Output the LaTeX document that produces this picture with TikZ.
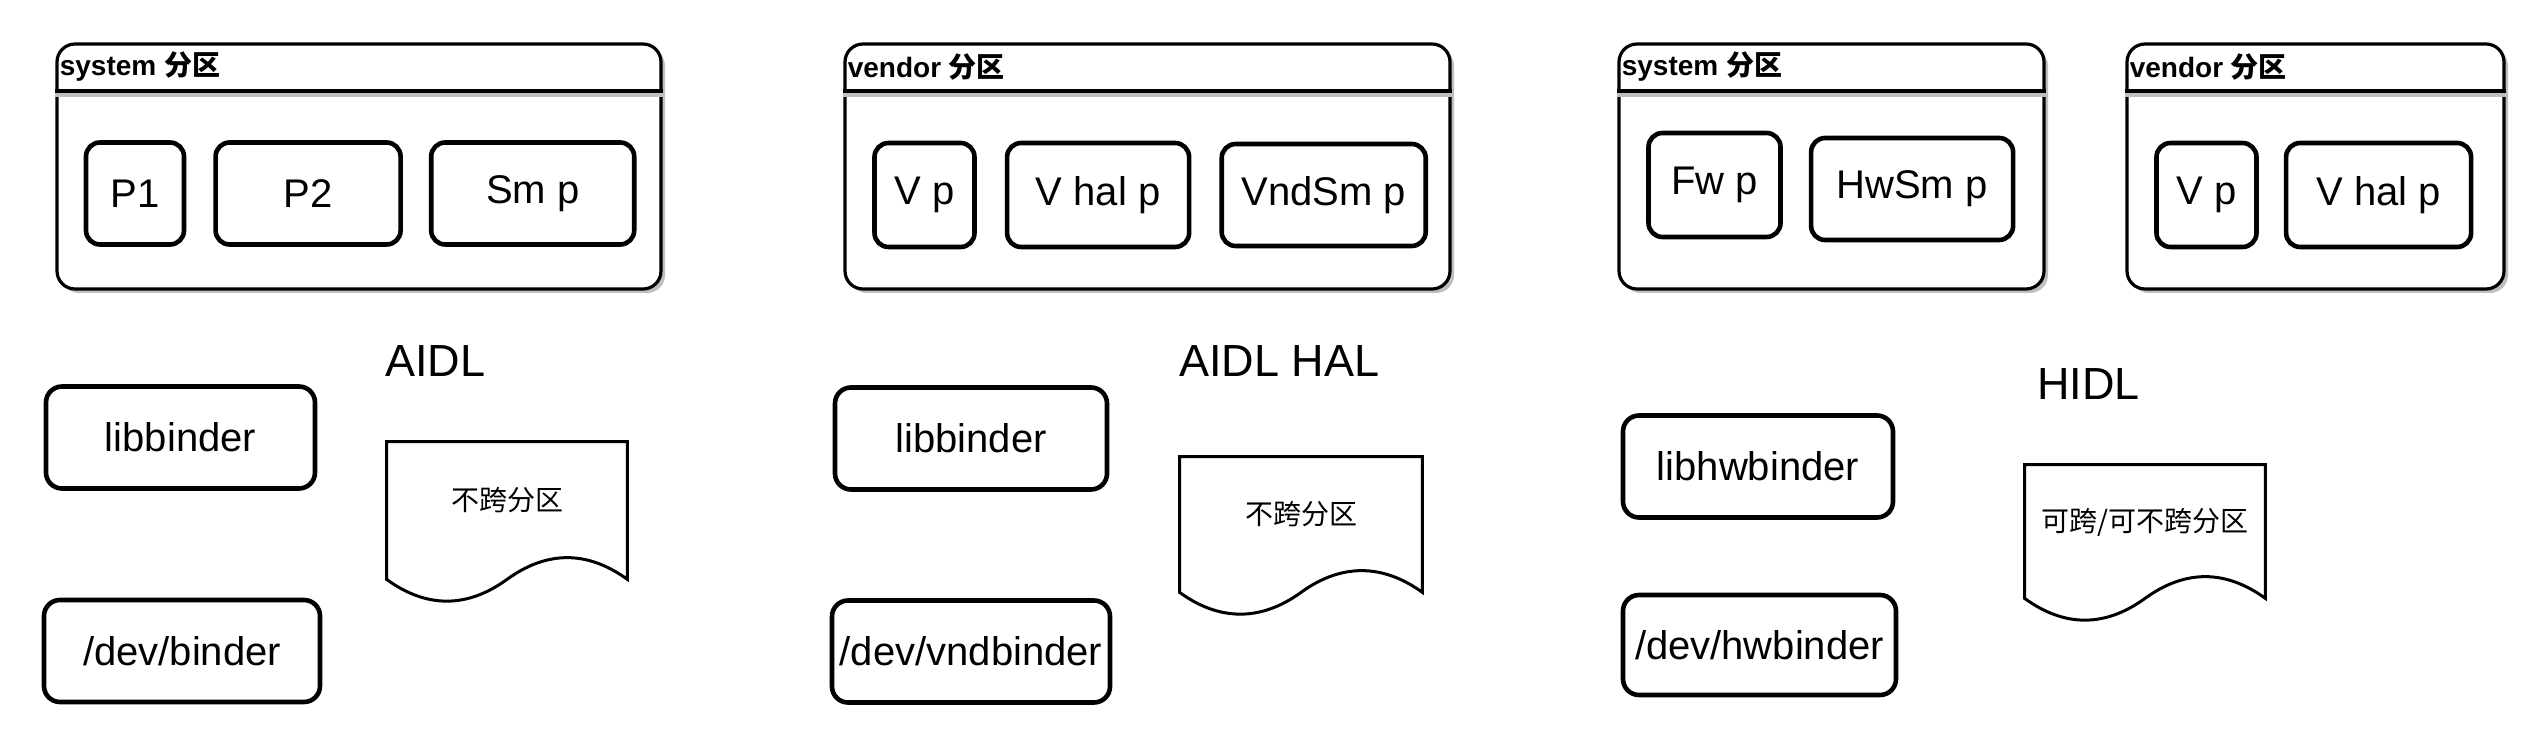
\documentclass[tikz,border=0pt]{standalone}
\usepackage{fontspec}
\setmainfont{Liberation Sans}
\newfontfamily\cjk{Noto Sans CJK SC}
\usetikzlibrary{positioning,shadows}

\begin{document}
\begin{tikzpicture}[
		x=0.5pt, y=-0.5pt,
		every node/.style={font=\fontsize{20}{24}\selectfont},
		part/.style={
			draw,
			fill=white,
			line width=1.6pt,
			rounded corners=9pt,
			minimum height=122.5pt,
			drop shadow={shadow xshift=2pt, shadow yshift=-2pt, fill=black!25, opacity=1}
		},
		head/.style={font=\fontsize{14}{16}\selectfont\bfseries, anchor=west, inner sep=1pt},
		proc/.style={
			draw,
			line width=2.3pt,
			rounded corners=7pt,
			minimum height=51pt,
			inner sep=2pt
		},
		lib/.style={
			draw,
			line width=2.3pt,
			rounded corners=8pt,
			minimum height=51pt,
			inner sep=1pt
		},
		kind/.style={font=\fontsize{22.5}{26}\selectfont, anchor=west, inner sep=0pt},
		note/.style={font=\fontsize{14}{16}\selectfont\cjk, text depth=11.5pt},
		docline/.style={line width=1.5pt},
		divider/.style={line width=1.8pt},
		dividershadow/.style={line width=1.8pt, black!25}
		]
		
		\useasboundingbox (0,0) rectangle (2548,742);
		
		% ---- Partitions ----
		\node[part, minimum width=302pt] (sys1) at (359,166.5) {};
		\node[part, minimum width=302.5pt] (ven1) at (1147.5,166.5) {};
		\node[part, minimum width=212.5pt] (sys2) at (1831.5,166.5) {};
		\node[part, minimum width=188.5pt] (ven2) at (2315.5,166.5) {};
		
		% ---- Partition headers ----
		\foreach \p/\t in {sys1/system, ven1/vendor, sys2/system, ven2/vendor} {
			\node[head] (\p h) at ([xshift=1pt]\p.west |- 0,67) {\t\ {\cjk 分区}};
			\draw[dividershadow] (\p.west |- 0,95) -- (\p.east |- 0,95);
			\draw[divider] (\p.west |- 0,91) -- (\p.east |- 0,91);
		}
		
		% ---- AIDL processes ----
		\node[proc, minimum width=49pt] (p1) at (135,193.5) {P1};
		\node[proc, minimum width=92.5pt, right=13.5pt of p1] (p2) {P2};
		\node[proc, minimum width=101.5pt, right=13pt of p2] (smp) {Sm p};
		
		% ---- AIDL HAL processes ----
		\node[proc, minimum width=50pt, minimum height=52pt] (vp1) at (924.5,195) {V p};
		\node[proc, minimum width=91pt, minimum height=52pt, right=14pt of vp1] (vhalp1) {V hal p};
		\node[proc, minimum width=102pt, right=14pt of vhalp1] (vndsmp) {VndSm p};
		
		% ---- HIDL processes ----
		\node[proc, minimum width=66pt, minimum height=52pt] (fwp) at (1714.5,185) {Fw p};
		\node[proc, minimum width=101pt, right=13pt of fwp, yshift=-2pt] (hwsmp) {HwSm p};
		\node[proc, minimum width=50pt, minimum height=52pt] (vp2) at (2206.5,195) {V p};
		\node[proc, minimum width=92.5pt, minimum height=52pt, right=12.5pt of vp2] (vhalp2) {V hal p};
		
		% ---- Libraries and devices ----
		\node[lib, minimum width=134.5pt] (lib1) at (180.5,437.5) {libbinder};
		\node[lib, minimum width=138pt] (dev1) at (182,651) {/dev/binder};
		\node[lib, minimum width=136pt] (lib2) at (971,438.5) {libbinder};
		\node[lib, minimum width=139pt] (dev2) at (971,651.5) {/dev/vndbinder};
		\node[lib, minimum width=135pt] (lib3) at (1758,466.5) {libhwbinder};
		\node[lib, minimum width=136.5pt, minimum height=50pt] (dev3) at (1759.5,645) {/dev/hwbinder};
		
		% ---- Kinds ----
		\node[kind] (aidl) at (385,361) {AIDL};
		\node[kind] (aidlhal) at (1179,361) {AIDL HAL};
		\node[kind] (hidl) at (2037,384) {HIDL};
		
		% ---- Notes ----
		\node[note, minimum width=120pt, minimum height=68.5pt] (doc1) at (507,510.5) {不跨分区};
		\node[note, minimum width=121pt, minimum height=67.5pt] (doc2) at (1301,524.5) {不跨分区};
		\node[note, minimum width=120pt, minimum height=66.5pt] (doc3) at (2145,531.5) {可跨/可不跨分区};
		
		\foreach \d in {doc1, doc2, doc3} {
			\draw[docline] (\d.south west) -- (\d.north west) -- (\d.north east) -- (\d.south east)
				.. controls +(-40,-29) and +(40,-29) .. (\d.south)
				.. controls +(-40,29) and +(40,29) .. (\d.south west) -- cycle;
		}
		
\end{tikzpicture}
\end{document}
